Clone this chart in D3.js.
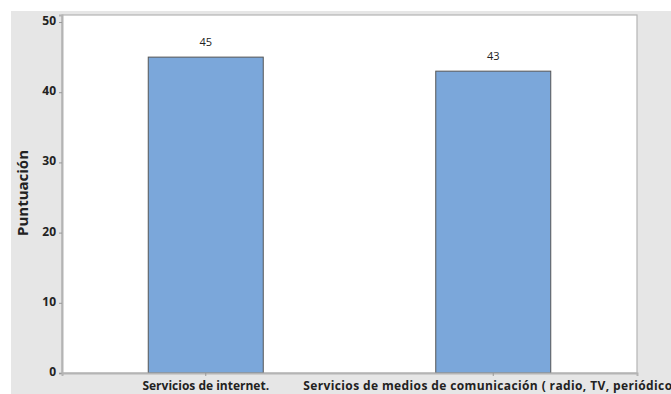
<!DOCTYPE html>
<html><head><meta charset="utf-8">
<script src="https://cdnjs.cloudflare.com/ajax/libs/d3/7.8.5/d3.min.js"></script>
<style>html,body{margin:0;padding:0;background:#fff;overflow:hidden}</style>
</head><body>
<svg id="c" width="671" height="394"></svg>
<script>
const categories = ["Servicios de internet.", "Servicios de medios de comunicación ( radio, TV, periódicos)"];
const values = [45, 43];
const yTicks = [0, 10, 20, 30, 40, 50];
const yTitle = "Puntuación";

const W = 671, H = 394;
const m = {l: 62, t: 15, r: 637, b: 373};
const svg = d3.select("#c");
const font = "'Open Sans', 'Noto Sans', sans-serif";

svg.append("rect").attr("x", 11).attr("y", 11).attr("width", W - 11).attr("height", H - 11).attr("fill", "#e6e6e6");
svg.append("rect").attr("x", m.l).attr("y", m.t).attr("width", m.r - m.l).attr("height", m.b - m.t)
  .attr("fill", "#fff").attr("stroke", "#b4b4b4").attr("stroke-width", 1.2);

const x = d3.scaleBand().domain(categories).range([m.l, m.r]).paddingInner(0.6).paddingOuter(0.3);
const y = d3.scaleLinear().domain([0, 51]).range([m.b, m.t]);

svg.selectAll("rect.bar").data(values).enter().append("rect").attr("class", "bar")
  .attr("x", (d, i) => x(categories[i])).attr("width", x.bandwidth())
  .attr("y", d => y(d)).attr("height", d => y(0) - y(d))
  .attr("fill", "#7ba7da").attr("stroke", "#555").attr("stroke-width", 1);

svg.selectAll("text.val").data(values).enter().append("text").attr("class", "val")
  .attr("x", (d, i) => x(categories[i]) + x.bandwidth() / 2).attr("y", d => y(d) - 11)
  .attr("text-anchor", "middle").attr("font-family", font).attr("font-size", 11).attr("fill", "#222")
  .text(d => d);

const ya = svg.append("g").attr("transform", `translate(${m.l},0)`)
  .call(d3.axisLeft(y).tickValues(yTicks).tickSize(3).tickPadding(3).tickFormat(d3.format("d")));
ya.select(".domain").attr("stroke", "#b4b4b4").attr("stroke-width", 2);
ya.selectAll(".tick line").attr("stroke", "#999");
ya.selectAll(".tick text").attr("font-family", font).attr("font-size", 12).attr("font-weight", "bold").attr("fill", "#222").attr("dy", "0.2em");

const xa = svg.append("g").attr("transform", `translate(0,${m.b})`)
  .call(d3.axisBottom(x).tickSize(3).tickPadding(5));
xa.select(".domain").attr("stroke", "#b4b4b4").attr("stroke-width", 2);
xa.selectAll(".tick line").attr("stroke", "#999");
xa.selectAll(".tick text").attr("font-family", font).attr("font-size", 12).attr("font-weight", "bold").attr("fill", "#222")
  .attr("letter-spacing", (d, i) => i === 1 ? "0.38px" : null);

svg.append("text").attr("transform", `translate(28,${193}) rotate(-90)`)
  .attr("text-anchor", "middle").attr("font-family", font).attr("font-size", 15).attr("font-weight", "bold")
  .attr("fill", "#222").text(yTitle);
</script>
</body></html>
